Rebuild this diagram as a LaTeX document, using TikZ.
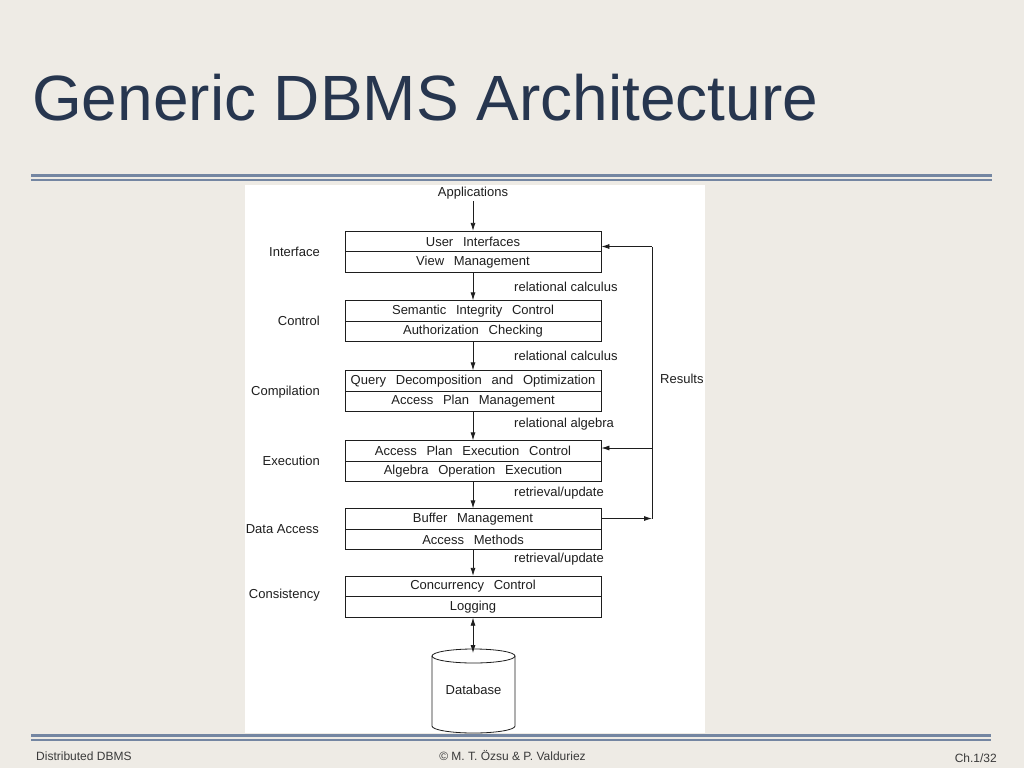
\documentclass[tikz,border=0pt]{standalone}
\usepackage{fontspec}
\setmainfont{Liberation Sans}
\newfontfamily\boxfont[WordSpace=2.7]{Liberation Sans}
\usetikzlibrary{arrows.meta}
\definecolor{bgc}{HTML}{EEEBE5}
\definecolor{titlec}{HTML}{27364F}
\definecolor{rulec}{HTML}{7486A2}
\definecolor{footc}{HTML}{3A3A3A}
\definecolor{inkc}{HTML}{1E1E1E}
\tikzset{
  half/.style={draw=inkc, line width=0.8pt, minimum width=256pt, minimum height=20.5pt, inner sep=0pt, text=inkc, font=\boxfont\fontsize{13}{15}\selectfont},
  lbl/.style={inner sep=0pt, text=inkc, font=\fontsize{13}{15}\selectfont},
  tip/.tip={Latex[length=8pt,width=5pt]},
  arr/.style={draw=inkc, line width=0.8pt, -tip},
  dblarr/.style={draw=inkc, line width=0.8pt, tip-tip},
  plain/.style={draw=inkc, line width=0.8pt},
  rulel/.style={draw=rulec, line width=2.4pt},
  foot/.style={inner sep=0pt, text=footc, font=\fontsize{12}{14}\selectfont}
}
\begin{document}
\begin{tikzpicture}[x=1pt,y=-1pt]
\useasboundingbox (0,0) rectangle (1024,768);
\fill[bgc] (0,0) rectangle (1024,768);
% title
\node[anchor=base west, inner sep=0pt, text=titlec, font=\fontsize{64}{70}\selectfont] (title) at (32,120) {Generic DBMS Architecture};
% rules
\draw[rulel] (31,175.5) -- (992,175.5);
\draw[rulel] (31,179.8) -- (992,179.8);
\draw[rulel] (31,735.5) -- (991,735.5);
\draw[rulel] (31,739.8) -- (991,739.8);
% white panel
\fill[white] (245,185) rectangle (705,733);
% applications
\node[lbl] (app) at (473,193) {Applications};
% boxes
\node[half] (b1a) at (473,241.5) {User Interfaces};
\node[half] (b1b) at (473,262) {View Management};
\node[half] (b2a) at (473,311) {Semantic Integrity Control};
\node[half] (b2b) at (473,331.5) {Authorization Checking};
\node[half] (b3a) at (473,381) {Query Decomposition and Optimization};
\node[half] (b3b) at (473,401.5) {Access Plan Management};
\node[half] (b4a) at (473,451) {Access Plan Execution Control};
\node[half] (b4b) at (473,471.5) {Algebra Operation Execution};
\node[half] (b5a) at (473,519) {Buffer Management};
\node[half] (b5b) at (473,539.5) {Access Methods};
\node[half] (b6a) at (473,586.5) {Concurrency Control};
\node[half] (b6b) at (473,607) {Logging};
% layer labels
\node[lbl, anchor=east] (lInt) at (320,251.5) {Interface};
\node[lbl, anchor=east] (lCon) at (320,320.5) {Control};
\node[lbl, anchor=east] (lCom) at (320,392) {Compilation};
\node[lbl, anchor=east] (lExe) at (320,460.5) {Execution};
\node[lbl, anchor=east] (lDat) at (319,529) {Data Access};
\node[lbl, anchor=east] (lCns) at (320,595) {Consistency};
% flow labels
\node[lbl, anchor=west] (f1) at (514,287) {relational calculus};
\node[lbl, anchor=west] (f2) at (514,356) {relational calculus};
\node[lbl, anchor=west] (f3) at (514,424) {relational algebra};
\node[lbl, anchor=west] (f4) at (514,493.5) {retrieval/update};
\node[lbl, anchor=west] (f5) at (514,559.5) {retrieval/update};
\node[lbl, anchor=west] (res) at (660,378.5) {Results};
% vertical arrows
\coordinate (appb) at (473,201);
\draw[arr] (appb) -- (b1a.north);
\draw[arr] (b1b.south) -- (b2a.north);
\draw[arr] (b2b.south) -- (b3a.north);
\draw[arr] (b3b.south) -- (b4a.north);
\draw[arr] (b4b.south) -- (b5a.north);
\draw[arr] (b5b.south) -- (b6a.north);
% database
\coordinate (dbtop) at (473,653);
\draw[plain, fill=white] (432,656) -- (432,726) arc[start angle=180, end angle=0, x radius=41.5, y radius=7] -- (515,656);
\draw[plain] (473.5,656) ellipse [x radius=41.5, y radius=7];
\node[lbl] (db) at (473.5,690) {Database};
\draw[dblarr] (b6b.south) -- (dbtop);
% results loop
\coordinate (r1) at (652,246.5);
\coordinate (r4) at (652,448);
\coordinate (r5) at (652,518.5);
\draw[arr] (b5a.east |- r5) -- (r5);
\draw[plain] (r5) -- (r1);
\draw[arr] (r1) -- (b1a.east |- r1);
\draw[arr] (r4) -- (b4a.east |- r4);
% footer
\node[foot, anchor=base west] (fl) at (36,760.5) {Distributed DBMS};
\node[foot, anchor=base] (fc) at (512.5,760.5) {© M. T. Özsu \& P. Valduriez};
\node[foot, anchor=base east] (fr) at (997,762) {Ch.1/32};
\end{tikzpicture}
\end{document}
